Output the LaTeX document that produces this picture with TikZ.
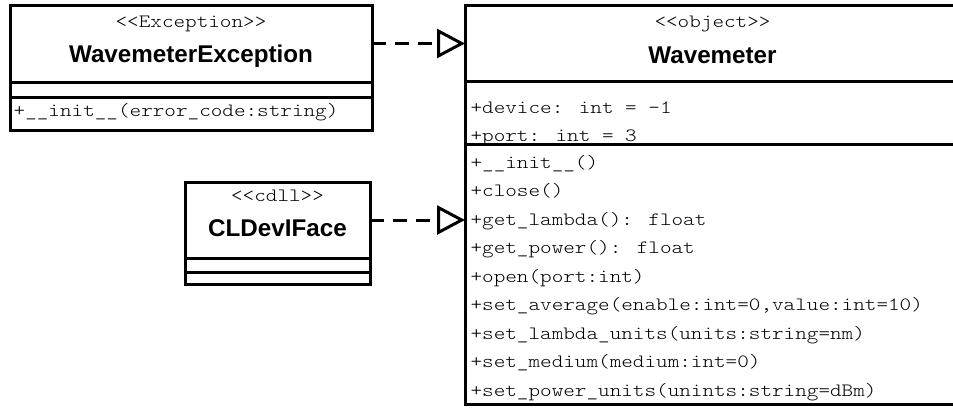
\documentclass[tikz,border=0pt]{standalone}
\usepackage{fontspec}
\setmainfont{Liberation Sans}
\usetikzlibrary{arrows.meta}
% monospaced member text: Latin Modern Mono Light widened to a 0.6em pitch
\newfontfamily\lmwide{lmmonolt10-regular}[Extension=.otf, FakeStretch=1.175]
\newcommand{\umlmono}{\lmwide\fontsize{18.8}{20}\selectfont}

\begin{document}
\begin{tikzpicture}[x=1pt, y=-1pt,
  umlbox/.style={draw=black, line width=3pt, inner sep=0pt, outer sep=0pt,
    anchor=north west, minimum width=#1},
  stereo/.style={font=\umlmono, inner sep=0pt, anchor=base},
  cname/.style={font=\bfseries\fontsize{24.2}{26}\selectfont, inner sep=0pt, anchor=base},
  member/.style={font=\umlmono, inner sep=0pt, anchor=base west},
  realize/.style={line width=3pt, dash pattern=on 14pt off 9pt,
    -{Triangle[open, length=28pt, width=29pt]}}
]
\useasboundingbox (0,0) rectangle (953,407);
\clip (0,0) rectangle (953,407);

% WavemeterException
\node[umlbox=362pt, minimum height=77pt] (excHead) at (10,5) {};
\node[umlbox=362pt, minimum height=15pt] (excAttr) at (10,82) {};
\node[umlbox=362pt, minimum height=33pt] (excOps) at (10,97) {};
\node[stereo] (excSt) at (191,27) {<{}<Exception>{}>};
\node[cname] (excName) at (191,62) {WavemeterException};
\node[member] (excM1) at (13.5,116) {+\_\_init\_\_(error\_code:string)};

% CLDevIFace
\node[umlbox=185pt, minimum height=76pt] (clHead) at (185,182) {};
\node[umlbox=185pt, minimum height=14pt] (clAttr) at (185,258) {};
\node[umlbox=185pt, minimum height=12pt] (clOps) at (185,272) {};
\node[stereo] (clSt) at (277.5,201) {<{}<cdll>{}>};
\node[cname] (clName) at (277.5,236) {CLDevIFace};

% Wavemeter
\node[umlbox=495pt, minimum height=76pt] (wmHead) at (465,5) {};
\node[umlbox=495pt, minimum height=63pt] (wmAttr) at (465,81) {};
\node[umlbox=495pt, minimum height=260.5pt] (wmOps) at (465,144) {};
\node[stereo] (wmSt) at (712.5,27) {<{}<object>{}>};
\node[cname] (wmName) at (712.5,63) {Wavemeter};
\node[member] (wmA1) at (470.4,113) {+device: int = -1};
\node[member] (wmA2) at (470.4,141) {+port: int = 3};
\node[member] (wmM1) at (470.4,168) {+\_\_init\_\_()};
\node[member] (wmM2) at (470.4,196.5) {+close()};
\node[member] (wmM3) at (470.4,225) {+get\_lambda(): float};
\node[member] (wmM4) at (470.4,253.5) {+get\_power(): float};
\node[member] (wmM5) at (470.4,282) {+open(port:int)};
\node[member] (wmM6) at (470.4,310.5) {+set\_average(enable:int=0,value:int=10)};
\node[member] (wmM7) at (470.4,339) {+set\_lambda\_units(units:string=nm)};
\node[member] (wmM8) at (470.4,367.5) {+set\_medium(medium:int=0)};
\node[member] (wmM9) at (470.4,396) {+set\_power\_units(unints:string=dBm)};

% realization connectors
\draw[realize] (excHead.east) -- (excHead.east -| wmHead.west);
\draw[realize] (clHead.east) -- (clHead.east -| wmOps.west);
\end{tikzpicture}
\end{document}
